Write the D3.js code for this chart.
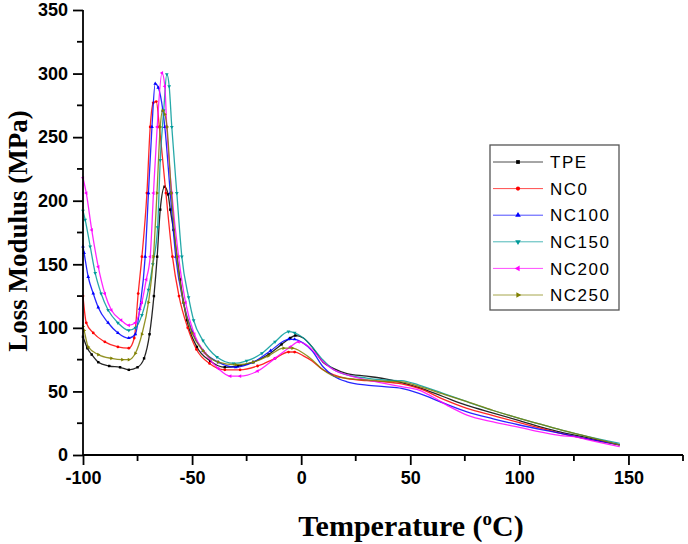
<!DOCTYPE html>
<html><head><meta charset="utf-8">
<script src="https://cdn.jsdelivr.net/npm/d3@7/dist/d3.min.js"></script>
<style>body{margin:0;background:#fff}svg{display:block}</style>
</head><body>
<svg id="chart" width="688" height="544"></svg>
<script>
const seriesNames = ["TPE","NC0","NC100","NC150","NC200","NC250"];
const seriesColors = ["#000000","#ff0000","#0000ff","#009a9a","#ff00ff","#808000"];
const markerTypes = ["square","circle","triangleUp","triangleDown","triangleLeft","triangleRight"];
const xTicks = [-100,-50,0,50,100,150];
const yTicks = [0,50,100,150,200,250,300,350];

const TPE = [[-100,93],[-98,84],[-96,79],[-93,73],[-88,70],[-83,69],[-79,67],[-75,69],[-72,76],[-69.5,95],[-67.5,125],[-66,156],[-64.6,193],[-62.6,211],[-61,205],[-60,193],[-58.5,177],[-55.5,138],[-52.4,106],[-47.8,85],[-41.7,74],[-35,69],[-29,70],[-22,73],[-15,79],[-9,87],[-5,92],[-2.7,94],[1,92],[5,85],[10,73],[15,68],[21,64],[30,62],[38,60],[46,57],[54,53],[65,46],[76,39],[88,33],[100,27],[110,22],[119,18],[130,14],[146,8]];
const NC0 = [[-100,125],[-98.5,104],[-95.3,96],[-90,89],[-84,85],[-79,84],[-76.5,92],[-74.7,127],[-73,156],[-70.7,206],[-69.2,258],[-67.8,277],[-66.4,278],[-65,258],[-62,206],[-59,156],[-56,125],[-52,100],[-48,83],[-42,72],[-35,67],[-28,67],[-20,70],[-12,76],[-5.8,81],[-3,81],[1,78],[5,74],[10,67],[15,63],[21,60],[30,58.5],[38,57.6],[46,56],[54,52.4],[65,44],[76,36.7],[88,31],[100,25.4],[110,21],[119,17],[130,13],[146,8]];
const NC100 = [[-100,164],[-99.5,159],[-97.6,140],[-95.3,127],[-93,116],[-88.5,104],[-84,96],[-79,92],[-76,95],[-74,115],[-71.5,156],[-70,206],[-68.4,258],[-66.9,292],[-65.5,289],[-63.4,271],[-62.5,258],[-60,206],[-57.5,156],[-54,120],[-50,97],[-45,82],[-38,73],[-30,69],[-22,73],[-14,82],[-5.8,91],[-3,91],[1,88],[5,82],[10,69.4],[15,62],[21,57.6],[30,55],[38,53.7],[46,52.4],[54,48.5],[65,41],[76,34],[88,28.5],[100,23.6],[110,20],[119,17],[130,13],[146,8]];
const NC150 = [[-100,192],[-99,185],[-96.7,164],[-94.4,143],[-91.7,127],[-88.5,114],[-84,104],[-79,98],[-76,100],[-73,110],[-70,130],[-68,150],[-65.8,179],[-64.6,232],[-63,271],[-61.6,299.5],[-60.5,290],[-59.3,258],[-57,206],[-54.7,156],[-51.6,124],[-49.3,106],[-45,90],[-38.6,77],[-31,72],[-25,74],[-18,80],[-12,89],[-5.8,97],[-3,96],[1,92],[5,85],[10,74.7],[15,67],[21,63],[30,60.5],[38,59],[46,58.5],[54,55],[65,48.5],[76,41.9],[88,35],[100,28.8],[110,24],[119,19.7],[130,15],[146,9.2]];
const NC200 = [[-100,218],[-98.5,206],[-96,177],[-93,148],[-90,127],[-87,114],[-82.5,106],[-79,102],[-76,104],[-73,120],[-71,138],[-69.2,156],[-67.7,206],[-66,258],[-63.8,300.5],[-62.5,290],[-61.6,258],[-59.3,206],[-56.2,156],[-53,120],[-49,95],[-44,80],[-38,68],[-32.5,62],[-28,62],[-20,66],[-12,76],[-5,85],[-1.2,89],[2,87],[6,81],[10,73.4],[15,67],[21,63],[30,59],[38,56.4],[46,53.7],[54,51],[60,46],[68,38],[76,31.4],[88,26],[100,21.8],[110,18],[119,15.2],[125,14.5],[130,12.5],[146,6.5]];
const NC250 = [[-100,101],[-99.5,98],[-97.6,85],[-93,79],[-87,76],[-82,75],[-79,75],[-76,80],[-73,95],[-70,120],[-67.7,156],[-66.1,206],[-64.6,258],[-63.5,271],[-62.5,268],[-61.5,258],[-59.5,206],[-57,156],[-54,120],[-50,96],[-45,82],[-38,73],[-30,71],[-22,73],[-15,78],[-8.1,84],[-4,84],[1,80],[5,75],[10,67],[15,62],[21,60.3],[30,59],[38,58],[46,57.5],[54,54],[65,48],[76,41.9],[88,35],[100,28.8],[110,24],[119,19.7],[130,15],[146,7.9]];
const seriesData = [TPE, NC0, NC100, NC150, NC200, NC250];

const svg = d3.select("#chart");
const x = d3.scaleLinear().domain([-100,175]).range([83,683]);
const y = d3.scaleLinear().domain([0,350]).range([455,10]);

const symbolMap = {
  square: d3.symbolSquare, circle: d3.symbolCircle,
  triangleUp: d3.symbolTriangle, triangleDown: d3.symbolTriangle,
  triangleLeft: d3.symbolTriangle, triangleRight: d3.symbolTriangle
};
const rotMap = {square:0,circle:0,triangleUp:0,triangleDown:180,triangleLeft:-90,triangleRight:90};

const line = d3.line().x(d=>x(d[0])).y(d=>y(d[1])).curve(d3.curveMonotoneX);
const plot = svg.append("g");
seriesData.forEach((data,i)=>{
  plot.append("path").datum(data).attr("d",line)
    .attr("fill","none").attr("stroke",seriesColors[i]).attr("stroke-width",1.3).attr("stroke-opacity",0.85);
  plot.selectAll(null).data(data.filter(d=>d[0]<0)).enter().append("path")
    .attr("d",d3.symbol().type(symbolMap[markerTypes[i]]).size(6))
    .attr("transform",d=>`translate(${x(d[0])},${y(d[1])}) rotate(${rotMap[markerTypes[i]]})`)
    .attr("fill",seriesColors[i]);
});

// axes
const fmt = d => String(d);
const xAxis = svg.append("g").attr("transform","translate(0,455)")
  .call(d3.axisBottom(x).tickValues(xTicks).tickSize(10).tickPadding(6).tickFormat(fmt));
xAxis.append("g").selectAll("line").data(d3.range(-75,176,50)).enter().append("line")
  .attr("x1",d=>x(d)).attr("x2",d=>x(d)).attr("y1",0).attr("y2",6).attr("stroke","#000").attr("stroke-width",1.8);
const yAxis = svg.append("g").attr("transform","translate(83,0)")
  .call(d3.axisLeft(y).tickValues(yTicks).tickSize(10).tickPadding(5).tickFormat(fmt));
yAxis.append("g").selectAll("line").data(d3.range(25,350,50)).enter().append("line")
  .attr("y1",d=>y(d)).attr("y2",d=>y(d)).attr("x1",0).attr("x2",-6).attr("stroke","#000").attr("stroke-width",1.8);
[xAxis,yAxis].forEach(a=>{
  a.select(".domain").attr("stroke","#000").attr("stroke-width",1.8);
  a.selectAll(".tick line").attr("stroke","#000").attr("stroke-width",1.8);
  a.selectAll("text").attr("font-family","'Liberation Sans', Arial, sans-serif")
    .attr("font-weight","bold").attr("font-size",18).attr("fill","#000");
});
xAxis.select(".domain").attr("d","M83,0H683");
yAxis.select(".domain").attr("d","M0,455V10");

// axis titles
svg.append("text").attr("transform","translate(27,231) rotate(-90)")
  .attr("text-anchor","middle").attr("font-family","'Liberation Serif','Times New Roman',serif")
  .attr("font-weight","bold").attr("font-size",27).text("Loss Modulus (MPa)");
const xt = svg.append("text").attr("x",411).attr("y",536).attr("text-anchor","middle")
  .attr("font-family","'Liberation Serif','Times New Roman',serif").attr("font-weight","bold").attr("font-size",30);
xt.append("tspan").text("Temperature (");
xt.append("tspan").attr("dy",-11).attr("font-size",19).text("o");
xt.append("tspan").attr("dy",11).text("C)");

// legend
const lg = svg.append("g");
lg.append("rect").attr("x",490).attr("y",145).attr("width",129).attr("height",165)
  .attr("fill","#fff").attr("stroke","#555").attr("stroke-width",1.3);
seriesNames.forEach((n,i)=>{
  const yy = 162 + i*26.6;
  lg.append("line").attr("x1",493).attr("x2",543).attr("y1",yy).attr("y2",yy)
    .attr("stroke",seriesColors[i]).attr("stroke-width",1).attr("stroke-opacity",0.7);
  lg.append("path").attr("d",d3.symbol().type(symbolMap[markerTypes[i]]).size(14))
    .attr("transform",`translate(518,${yy}) rotate(${rotMap[markerTypes[i]]})`).attr("fill",seriesColors[i]);
  lg.append("text").attr("x",550).attr("y",yy).attr("dy","0.36em")
    .attr("font-family","'Liberation Sans', Arial, sans-serif").attr("font-size",17)
    .attr("letter-spacing",1.5).text(n);
});
</script>
</body></html>
